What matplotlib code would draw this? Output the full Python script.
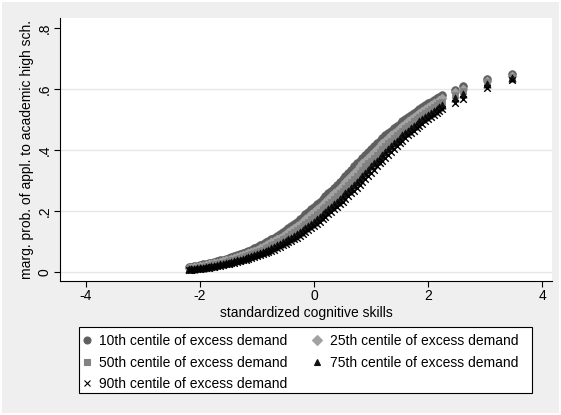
import matplotlib
import numpy as np

matplotlib.use("Agg")
from matplotlib import pyplot as plt
from matplotlib.lines import Line2D
from matplotlib.patches import Rectangle

plt.rcParams["font.family"] = ["Liberation Sans", "DejaVu Sans"]

# standardized cognitive skills: dense part of the sample, then a few isolated high scores
skills = [
    -2.20, -2.15, -2.10, -2.05, -2.00, -1.95, -1.90, -1.85, -1.80, -1.75,
    -1.70, -1.65, -1.60, -1.55, -1.50, -1.45, -1.40, -1.35, -1.30, -1.25,
    -1.20, -1.15, -1.10, -1.05, -1.00, -0.95, -0.90, -0.85, -0.80, -0.75,
    -0.70, -0.65, -0.60, -0.55, -0.50, -0.45, -0.40, -0.35, -0.30, -0.25,
    -0.20, -0.15, -0.10, -0.05, 0.00, 0.05, 0.10, 0.15, 0.20, 0.25,
    0.30, 0.35, 0.40, 0.45, 0.50, 0.55, 0.60, 0.65, 0.70, 0.75,
    0.80, 0.85, 0.90, 0.95, 1.00, 1.05, 1.10, 1.15, 1.20, 1.25,
    1.30, 1.35, 1.40, 1.45, 1.50, 1.55, 1.60, 1.65, 1.70, 1.75,
    1.80, 1.85, 1.90, 1.95, 2.00, 2.05, 2.10, 2.15, 2.20, 2.25,
    2.47, 2.62, 3.04, 3.47,
]

p10 = [
    0.016, 0.018, 0.019, 0.021, 0.023, 0.025, 0.026, 0.029, 0.031, 0.033,
    0.035, 0.038, 0.040, 0.043, 0.045, 0.048, 0.051, 0.055, 0.058, 0.062,
    0.065, 0.069, 0.073, 0.078, 0.082, 0.087, 0.092, 0.097, 0.102, 0.108,
    0.113, 0.119, 0.125, 0.132, 0.138, 0.145, 0.151, 0.158, 0.165, 0.173,
    0.181, 0.189, 0.196, 0.205, 0.213, 0.222, 0.230, 0.239, 0.248, 0.258,
    0.267, 0.277, 0.286, 0.296, 0.306, 0.316, 0.326, 0.336, 0.346, 0.356,
    0.365, 0.375, 0.384, 0.394, 0.403, 0.413, 0.422, 0.431, 0.439, 0.448,
    0.456, 0.464, 0.472, 0.480, 0.487, 0.495, 0.502, 0.509, 0.515, 0.522,
    0.529, 0.535, 0.541, 0.547, 0.553, 0.559, 0.564, 0.570, 0.575, 0.579,
    0.598, 0.609, 0.632, 0.648,
]
p25 = [
    0.013, 0.014, 0.016, 0.018, 0.019, 0.021, 0.023, 0.025, 0.026, 0.029,
    0.031, 0.033, 0.035, 0.038, 0.040, 0.043, 0.045, 0.048, 0.051, 0.055,
    0.058, 0.062, 0.065, 0.069, 0.073, 0.078, 0.082, 0.087, 0.092, 0.097,
    0.102, 0.108, 0.113, 0.119, 0.125, 0.132, 0.138, 0.145, 0.151, 0.158,
    0.165, 0.173, 0.181, 0.189, 0.196, 0.205, 0.213, 0.222, 0.230, 0.239,
    0.248, 0.258, 0.267, 0.277, 0.286, 0.296, 0.306, 0.316, 0.326, 0.336,
    0.346, 0.356, 0.365, 0.375, 0.384, 0.394, 0.403, 0.413, 0.422, 0.431,
    0.439, 0.448, 0.456, 0.464, 0.472, 0.480, 0.487, 0.495, 0.502, 0.509,
    0.515, 0.522, 0.529, 0.535, 0.541, 0.547, 0.553, 0.559, 0.564, 0.570,
    0.591, 0.601, 0.628, 0.644,
]
p50 = [
    0.011, 0.012, 0.013, 0.014, 0.016, 0.018, 0.019, 0.021, 0.023, 0.025,
    0.026, 0.029, 0.031, 0.033, 0.035, 0.038, 0.040, 0.043, 0.045, 0.048,
    0.051, 0.055, 0.058, 0.062, 0.065, 0.069, 0.073, 0.078, 0.082, 0.087,
    0.092, 0.097, 0.102, 0.108, 0.113, 0.119, 0.125, 0.132, 0.138, 0.145,
    0.151, 0.158, 0.165, 0.173, 0.181, 0.189, 0.196, 0.205, 0.213, 0.222,
    0.230, 0.239, 0.248, 0.258, 0.267, 0.277, 0.286, 0.296, 0.306, 0.316,
    0.326, 0.336, 0.346, 0.356, 0.365, 0.375, 0.384, 0.394, 0.403, 0.413,
    0.422, 0.431, 0.439, 0.448, 0.456, 0.464, 0.472, 0.480, 0.487, 0.495,
    0.502, 0.509, 0.515, 0.522, 0.529, 0.535, 0.541, 0.547, 0.553, 0.559,
    0.580, 0.594, 0.622, 0.640,
]
p75 = [
    0.009, 0.010, 0.011, 0.012, 0.013, 0.014, 0.016, 0.018, 0.019, 0.021,
    0.023, 0.025, 0.026, 0.029, 0.031, 0.033, 0.035, 0.038, 0.040, 0.043,
    0.045, 0.048, 0.051, 0.055, 0.058, 0.062, 0.065, 0.069, 0.073, 0.078,
    0.082, 0.087, 0.092, 0.097, 0.102, 0.108, 0.113, 0.119, 0.125, 0.132,
    0.138, 0.145, 0.151, 0.158, 0.165, 0.173, 0.181, 0.189, 0.196, 0.205,
    0.213, 0.222, 0.230, 0.239, 0.248, 0.258, 0.267, 0.277, 0.286, 0.296,
    0.306, 0.316, 0.326, 0.336, 0.346, 0.356, 0.365, 0.375, 0.384, 0.394,
    0.403, 0.413, 0.422, 0.431, 0.439, 0.448, 0.456, 0.464, 0.472, 0.480,
    0.487, 0.495, 0.502, 0.509, 0.515, 0.522, 0.529, 0.535, 0.541, 0.547,
    0.572, 0.584, 0.616, 0.637,
]
p90 = [
    0.007, 0.008, 0.009, 0.010, 0.011, 0.012, 0.013, 0.014, 0.016, 0.018,
    0.019, 0.021, 0.023, 0.025, 0.026, 0.029, 0.031, 0.033, 0.035, 0.038,
    0.040, 0.043, 0.045, 0.048, 0.051, 0.055, 0.058, 0.062, 0.065, 0.069,
    0.073, 0.078, 0.082, 0.087, 0.092, 0.097, 0.102, 0.108, 0.113, 0.119,
    0.125, 0.132, 0.138, 0.145, 0.151, 0.158, 0.165, 0.173, 0.181, 0.189,
    0.196, 0.205, 0.213, 0.222, 0.230, 0.239, 0.248, 0.258, 0.267, 0.277,
    0.286, 0.296, 0.306, 0.316, 0.326, 0.336, 0.346, 0.356, 0.365, 0.375,
    0.384, 0.394, 0.403, 0.413, 0.422, 0.431, 0.439, 0.448, 0.456, 0.464,
    0.472, 0.480, 0.487, 0.495, 0.502, 0.509, 0.515, 0.522, 0.529, 0.533,
    0.553, 0.566, 0.603, 0.631,
]

labels = [
    "10th centile of excess demand",
    "25th centile of excess demand",
    "50th centile of excess demand",
    "75th centile of excess demand",
    "90th centile of excess demand",
]
x_ticks = [-4, -2, 0, 2, 4]
y_ticks = [0, 0.2, 0.4, 0.6, 0.8]
y_tick_labels = ["0", ".2", ".4", ".6", ".8"]

styles = [
    dict(marker="o", color="#5f5f5f", s=30),
    dict(marker="D", color="#a2a2a2", s=20),
    dict(marker="s", color="#828282", s=20),
    dict(marker="^", color="#111111", s=26),
    dict(marker="x", color="#000000", s=22),
]

W, H = 561, 415
figure = plt.figure(figsize=(W / 100, H / 100), dpi=100, facecolor="white")
figure.patches.append(
    Rectangle((2 / W, 2 / H), 1 - 4 / W, 1 - 4 / H, transform=figure.transFigure,
              facecolor="#efefef", edgecolor="none", zorder=-5)
)
# legend frame drawn separately so it spans the same box as the original
figure.patches.append(
    Rectangle((79 / W, (H - 393) / H), 453 / W, 66 / H, transform=figure.transFigure,
              facecolor="white", edgecolor="#000000", linewidth=0.8, zorder=-4)
)
axis = figure.add_axes([60 / W, (H - 281) / H, 492 / W, 263 / H])
axis.set_facecolor("white")

x = np.asarray(skills)
for values, style in zip([p10, p25, p50, p75, p90], styles):
    axis.scatter(x, values, marker=style["marker"], s=style["s"], c=style["color"],
                 linewidths=1.0 if style["marker"] == "x" else 0.6,
                 edgecolors=style["color"], zorder=3)

axis.set_xlim(-4.456, 4.175)
axis.set_ylim(-0.0295, 0.833)
axis.set_xticks(x_ticks)
axis.set_xticklabels([str(t) for t in x_ticks])
axis.set_yticks(y_ticks)
axis.set_yticklabels(y_tick_labels, rotation=90, va="center")
for level in y_ticks[:-1]:
    axis.axhline(level, color="#e6e6e6", linewidth=1.0, zorder=1)

for side in ("top", "right"):
    axis.spines[side].set_visible(False)
for side in ("left", "bottom"):
    axis.spines[side].set_color("#000000")
    axis.spines[side].set_linewidth(0.8)
axis.tick_params(direction="out", length=4, width=0.8, labelsize=10, pad=2)
axis.set_xlabel("standardized cognitive skills", fontsize=10, labelpad=2)
axis.set_ylabel("marg. prob. of appl. to academic high sch.", fontsize=10, labelpad=3)

handles = [
    Line2D([], [], linestyle="none", marker=st["marker"], color=st["color"],
           markersize=5 if st["marker"] != "x" else 4.5, markeredgewidth=0.8)
    for st in styles
]
order = [0, 2, 4, 1, 3]
legend = figure.legend(
    [handles[i] for i in order], [labels[i] for i in order],
    ncol=2, loc="upper left", bbox_to_anchor=(81 / W, 1 - 334 / H),
    fontsize=10, frameon=False,
    handlelength=0.8, handletextpad=0.5, columnspacing=1.75,
    labelspacing=0.55, borderpad=0.0, borderaxespad=0.0,
)

figure.savefig("out.png", dpi=100, facecolor=figure.get_facecolor())
